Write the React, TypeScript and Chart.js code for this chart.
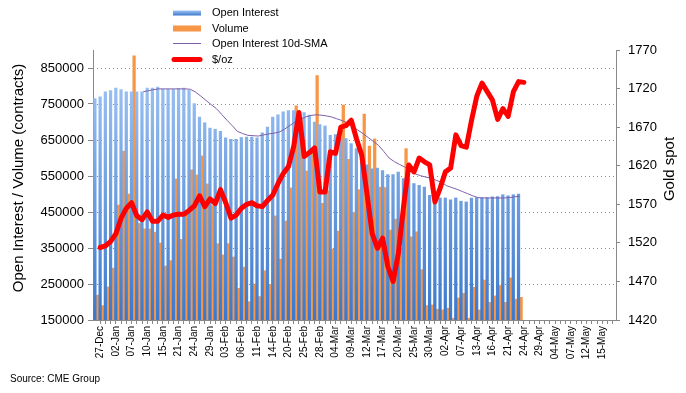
import React, { useEffect, useRef } from 'react';
import { Chart, registerables } from 'chart.js';

Chart.register(...registerables);

const dates = [
  '27-Dec', '30-Dec', '31-Dec',
  '02-Jan', '03-Jan', '06-Jan', '07-Jan', '08-Jan', '09-Jan', '10-Jan', '13-Jan', '14-Jan', '15-Jan', '16-Jan', '17-Jan',
  '21-Jan', '22-Jan', '23-Jan', '24-Jan', '27-Jan', '28-Jan', '29-Jan', '30-Jan', '31-Jan',
  '03-Feb', '04-Feb', '05-Feb', '06-Feb', '07-Feb', '10-Feb', '11-Feb', '12-Feb', '13-Feb', '14-Feb',
  '18-Feb', '19-Feb', '20-Feb', '21-Feb', '24-Feb', '25-Feb', '26-Feb', '27-Feb', '28-Feb',
  '02-Mar', '03-Mar', '04-Mar', '05-Mar', '06-Mar', '09-Mar', '10-Mar', '11-Mar', '12-Mar', '13-Mar',
  '16-Mar', '17-Mar', '18-Mar', '19-Mar', '20-Mar', '23-Mar', '24-Mar', '25-Mar', '26-Mar', '27-Mar', '30-Mar', '31-Mar',
  '01-Apr', '02-Apr', '03-Apr', '06-Apr', '07-Apr', '08-Apr', '09-Apr', '13-Apr', '14-Apr', '15-Apr', '16-Apr', '17-Apr',
  '20-Apr', '21-Apr', '22-Apr', '23-Apr', '24-Apr', '27-Apr', '28-Apr', '29-Apr', '30-Apr',
  '01-May', '04-May', '05-May', '06-May', '07-May', '08-May', '11-May', '12-May', '13-May', '14-May', '15-May',
  '18-May', '19-May', '20-May',
];

const lastLabelled = '15-May';

const openInterest = [
  765000, 770000, 784000, 787000, 794000, 790000, 784000, 784000, 784000, 784000,
  794000, 794000, 797000, 791000, 791000, 791000, 793000, 794000, 788000, 751000,
  714000, 698000, 683000, 680000, 674000, 656000, 652000, 652000, 657000, 658000,
  658000, 656000, 670000, 686000, 714000, 720000, 728000, 732000, 732000, 726000,
  726000, 719000, 700000, 693000, 689000, 663000, 665000, 654000, 654000, 640000,
  626000, 598000, 581000, 570000, 572000, 565000, 554000, 554000, 561000, 543000,
  544000, 529000, 524000, 519000, 496000, 489000, 489000, 489000, 484000, 489000,
  480000, 478000, 489000, 490000, 490000, 490000, 492000, 493000, 498000, 495000,
  498000, 500000,
];

const volume = [
  219000, 190000, 242000, 294000, 469000, 619000, 500000, 884000, 418000, 403000,
  403000, 394000, 364000, 300000, 315000, 542000, 374000, 442000, 567000, 553000,
  606000, 528000, 468000, 362000, 331000, 362000, 325000, 238000, 297000, 201000,
  250000, 215000, 287000, 249000, 439000, 319000, 425000, 517000, 745000, 708000,
  564000, 615000, 829000, 474000, 509000, 347000, 397000, 747000, 596000, 448000,
  512000, 722000, 633000, 653000, 519000, 518000, 400000, 430000, 350000, 626000,
  381000, 395000, 290000, 190000, 192000, 180000, 178000, 183000, 155000, 211000,
  224000, 155000, 241000, 178000, 261000, 199000, 217000, 246000, 199000, 267000,
  208000, 213000,
];

const oiSma10 = [
  null, null, null, null, null, null, null, null, null, 784000,
  787000, 790000, 792000, 792000, 792000, 792000, 792000, 792000, 791000, 783000,
  772000, 760000, 748000, 737000, 721000, 705000, 690000, 674000, 668000, 663000,
  662000, 661000, 664000, 667000, 669000, 672000, 680000, 690000, 700000, 707000,
  714000, 718000, 720000, 719000, 717000, 714000, 709000, 704000, 698000, 686000,
  678000, 668000, 657000, 646000, 635000, 618000, 600000, 590000, 582000, 575000,
  565000, 556000, 551000, 547000, 544000, 538000, 533000, 523000, 518000, 513000,
  507000, 501000, 495000, 490000, 489000, 489000, 489000, 489000, 489000, 490000,
  492000, 494000,
];

const goldSpot = [
  1514, 1516, 1522, 1532, 1552, 1565, 1572, 1555, 1550, 1560,
  1548, 1548, 1556, 1553, 1556, 1557, 1557, 1562, 1568, 1581,
  1567, 1577, 1571, 1589, 1572, 1552, 1556, 1565, 1570, 1572,
  1568, 1567, 1575, 1582, 1597, 1610, 1619, 1645, 1689, 1632,
  1637, 1643, 1586, 1586, 1638, 1636, 1670, 1672, 1679, 1655,
  1634, 1584, 1532, 1513, 1526, 1489, 1470, 1506, 1567, 1621,
  1612, 1630, 1625, 1621, 1573, 1591, 1612, 1617, 1660, 1646,
  1644, 1679, 1710, 1727, 1716, 1705, 1680, 1694, 1684, 1716,
  1729, 1728,
];

const leftTicks = [150000, 250000, 350000, 450000, 550000, 650000, 750000, 850000];
const rightTicks = [1420, 1470, 1520, 1570, 1620, 1670, 1720, 1770];

const seriesNames = ['Open Interest', 'Volume', 'Open Interest 10d-SMA', '$/oz'];
const leftTitle = 'Open Interest / Volume (contracts)';
const rightTitle = 'Gold spot';
const sourceNote = 'Source: CME Group';

// axis layout (in category units)
const LABEL_AXIS_LEAD = 1.38;
const BAR_AXIS_LEAD = 0.61;
const BAR_THICKNESS = 2.6;

const FONT = "'Liberation Sans', Arial, sans-serif";
const ORANGE = '#f79646';
const PURPLE = '#7f5fa8';
const RED = '#ff0000';
const AXIS = '#888888';

function blueGradient(c: CanvasRenderingContext2D, top: number, bottom: number) {
  const g = c.createLinearGradient(0, top, 0, bottom);
  g.addColorStop(0, '#a2c6f5');
  g.addColorStop(1, '#3a78cc');
  return g;
}

const dateTicks = (axis: any) =>
  dates.map((_d, i) => ({ value: i })).filter((t) => t.value >= axis.min && t.value <= axis.max);

const extrasPlugin = {
  id: 'extras',
  beforeDatasetsDraw(chart: any) {
    const { ctx, chartArea } = chart;
    const y = chart.scales.y;
    ctx.save();
    ctx.strokeStyle = '#8a8a8a';
    ctx.lineWidth = 1;
    ctx.setLineDash([1, 3]);
    leftTicks.forEach((v) => {
      if (v <= y.min) return;
      const py = Math.round(y.getPixelForValue(v)) + 0.5;
      ctx.beginPath();
      ctx.moveTo(chartArea.left, py);
      ctx.lineTo(chartArea.right, py);
      ctx.stroke();
    });
    ctx.restore();
  },
  afterDraw(chart: any) {
    const { ctx } = chart;
    ctx.save();
    ctx.fillStyle = '#000';
    ctx.font = `15px ${FONT}`;
    ctx.textAlign = 'center';
    ctx.textBaseline = 'middle';
    ctx.save();
    ctx.translate(18.5, 178);
    ctx.rotate(-Math.PI / 2);
    ctx.fillText(leftTitle, 0, 0);
    ctx.restore();
    ctx.save();
    ctx.translate(669.5, 169);
    ctx.rotate(-Math.PI / 2);
    ctx.fillText(rightTitle, 0, 0);
    ctx.restore();

    const rows = [13, 28.5, 43.5, 59.5];
    const sx0 = 173;
    const sx1 = 201;
    ctx.font = `11px ${FONT}`;
    ctx.textAlign = 'left';
    ctx.textBaseline = 'middle';
    seriesNames.forEach((name, i) => {
      const ry = rows[i];
      if (i === 0) {
        ctx.fillStyle = blueGradient(ctx, ry - 2.5, ry + 2.5);
        ctx.fillRect(sx0, ry - 2.5, sx1 - sx0, 5);
      } else if (i === 1) {
        ctx.fillStyle = ORANGE;
        ctx.fillRect(sx0, ry - 3, sx1 - sx0, 6);
      } else if (i === 2) {
        ctx.strokeStyle = PURPLE;
        ctx.lineWidth = 1;
        ctx.beginPath();
        ctx.moveTo(sx0, ry);
        ctx.lineTo(sx1, ry);
        ctx.stroke();
      } else {
        ctx.strokeStyle = RED;
        ctx.lineWidth = 5;
        ctx.lineCap = 'round';
        ctx.beginPath();
        ctx.moveTo(sx0 + 1, ry);
        ctx.lineTo(sx1 - 1, ry);
        ctx.stroke();
      }
      ctx.fillStyle = '#000';
      ctx.fillText(name, 212, ry);
    });

    ctx.font = `10px ${FONT}`;
    ctx.fillText(sourceNote, 10, 379);
    ctx.restore();
  },
};

export default function App() {
  const canvasRef = useRef<HTMLCanvasElement | null>(null);

  useEffect(() => {
    const canvas = canvasRef.current;
    if (!canvas) return;
    const lastIdx = dates.indexOf(lastLabelled);
    const pts = (arr: (number | null)[]) => arr.map((v, i) => ({ x: i, y: v }));
    const chart = new Chart(canvas, {
      type: 'bar',
      data: {
        datasets: [
          {
            type: 'line',
            label: seriesNames[3],
            data: pts(goldSpot),
            xAxisID: 'x',
            yAxisID: 'y2',
            borderColor: RED,
            backgroundColor: RED,
            borderWidth: 5,
            pointRadius: 0,
            tension: 0,
            borderJoinStyle: 'round',
            borderCapStyle: 'round',
            order: 0,
          } as any,
          {
            type: 'line',
            label: seriesNames[2],
            data: pts(oiSma10),
            xAxisID: 'xb',
            yAxisID: 'y',
            borderColor: PURPLE,
            backgroundColor: PURPLE,
            borderWidth: 1,
            pointRadius: 0,
            tension: 0,
            order: 1,
          } as any,
          {
            type: 'bar',
            label: seriesNames[0],
            data: pts(openInterest),
            xAxisID: 'xb',
            yAxisID: 'y',
            backgroundColor: (c: any) => {
              const ca = c.chart.chartArea;
              if (!ca) return '#7fb0ec';
              return blueGradient(c.chart.ctx, ca.top + 15, ca.bottom);
            },
            borderWidth: 0,
            barThickness: BAR_THICKNESS,
            order: 2,
          } as any,
          {
            type: 'bar',
            label: seriesNames[1],
            data: pts(volume),
            xAxisID: 'xb',
            yAxisID: 'y',
            backgroundColor: ORANGE,
            borderWidth: 0,
            barThickness: BAR_THICKNESS,
            order: 3,
          } as any,
        ],
      },
      options: {
        responsive: false,
        animation: false,
        devicePixelRatio: 1,
        layout: { padding: { top: 50, left: 0, right: 0, bottom: 0 } },
        plugins: {
          legend: { display: false },
          tooltip: { enabled: false },
        },
        scales: {
          x: {
            axis: 'x',
            type: 'linear',
            position: 'bottom',
            min: -LABEL_AXIS_LEAD,
            max: dates.length - LABEL_AXIS_LEAD,
            offset: false,
            afterBuildTicks: (axis: any) => {
              axis.ticks = dateTicks(axis);
            },
            grid: {
              display: true,
              drawOnChartArea: false,
              drawTicks: true,
              tickLength: 4,
              color: AXIS,
              offset: false,
            },
            border: { display: true, color: AXIS },
            ticks: {
              autoSkip: false,
              minRotation: 90,
              maxRotation: 90,
              padding: 2,
              color: '#000',
              font: { family: FONT, size: 10 },
              callback: (v: any) => {
                const i = Math.round(Number(v));
                return i % 3 === 0 && i <= lastIdx ? dates[i] : '';
              },
            },
            afterFit: (s: any) => {
              s.height = 73;
            },
          },
          xb: {
            axis: 'x',
            type: 'linear',
            position: 'bottom',
            display: false,
            min: -BAR_AXIS_LEAD,
            max: dates.length - BAR_AXIS_LEAD,
            offset: false,
            afterBuildTicks: (axis: any) => {
              axis.ticks = dateTicks(axis);
            },
            ticks: { autoSkip: false },
            grid: { offset: false },
          },
          y: {
            type: 'linear',
            position: 'left',
            min: 150000,
            max: 900000,
            afterBuildTicks: (axis: any) => {
              axis.ticks = leftTicks.map((v) => ({ value: v }));
            },
            grid: { drawOnChartArea: false, drawTicks: true, tickLength: 5, color: AXIS },
            border: { display: true, color: AXIS },
            ticks: {
              padding: 4,
              color: '#000',
              font: { family: FONT, size: 13 },
              callback: (v: any) => String(v),
            },
            afterFit: (s: any) => {
              s.width = 93;
            },
          },
          y2: {
            type: 'linear',
            position: 'right',
            min: 1420,
            max: 1770,
            afterBuildTicks: (axis: any) => {
              axis.ticks = rightTicks.map((v) => ({ value: v }));
            },
            grid: { drawOnChartArea: false, drawTicks: true, tickLength: 4, color: AXIS },
            border: { display: true, color: AXIS },
            ticks: {
              padding: 8,
              color: '#000',
              font: { family: FONT, size: 13 },
              callback: (v: any) => String(v),
            },
            afterFit: (s: any) => {
              s.width = 70;
            },
          },
        },
      } as any,
      plugins: [extrasPlugin],
    });
    return () => chart.destroy();
  }, []);

  return (
    <div style={{ position: 'absolute', left: 0, top: 0, width: 686, height: 393, background: '#fff' }}>
      <canvas ref={canvasRef} width={686} height={393} style={{ width: 686, height: 393, display: 'block' }} />
    </div>
  );
}
